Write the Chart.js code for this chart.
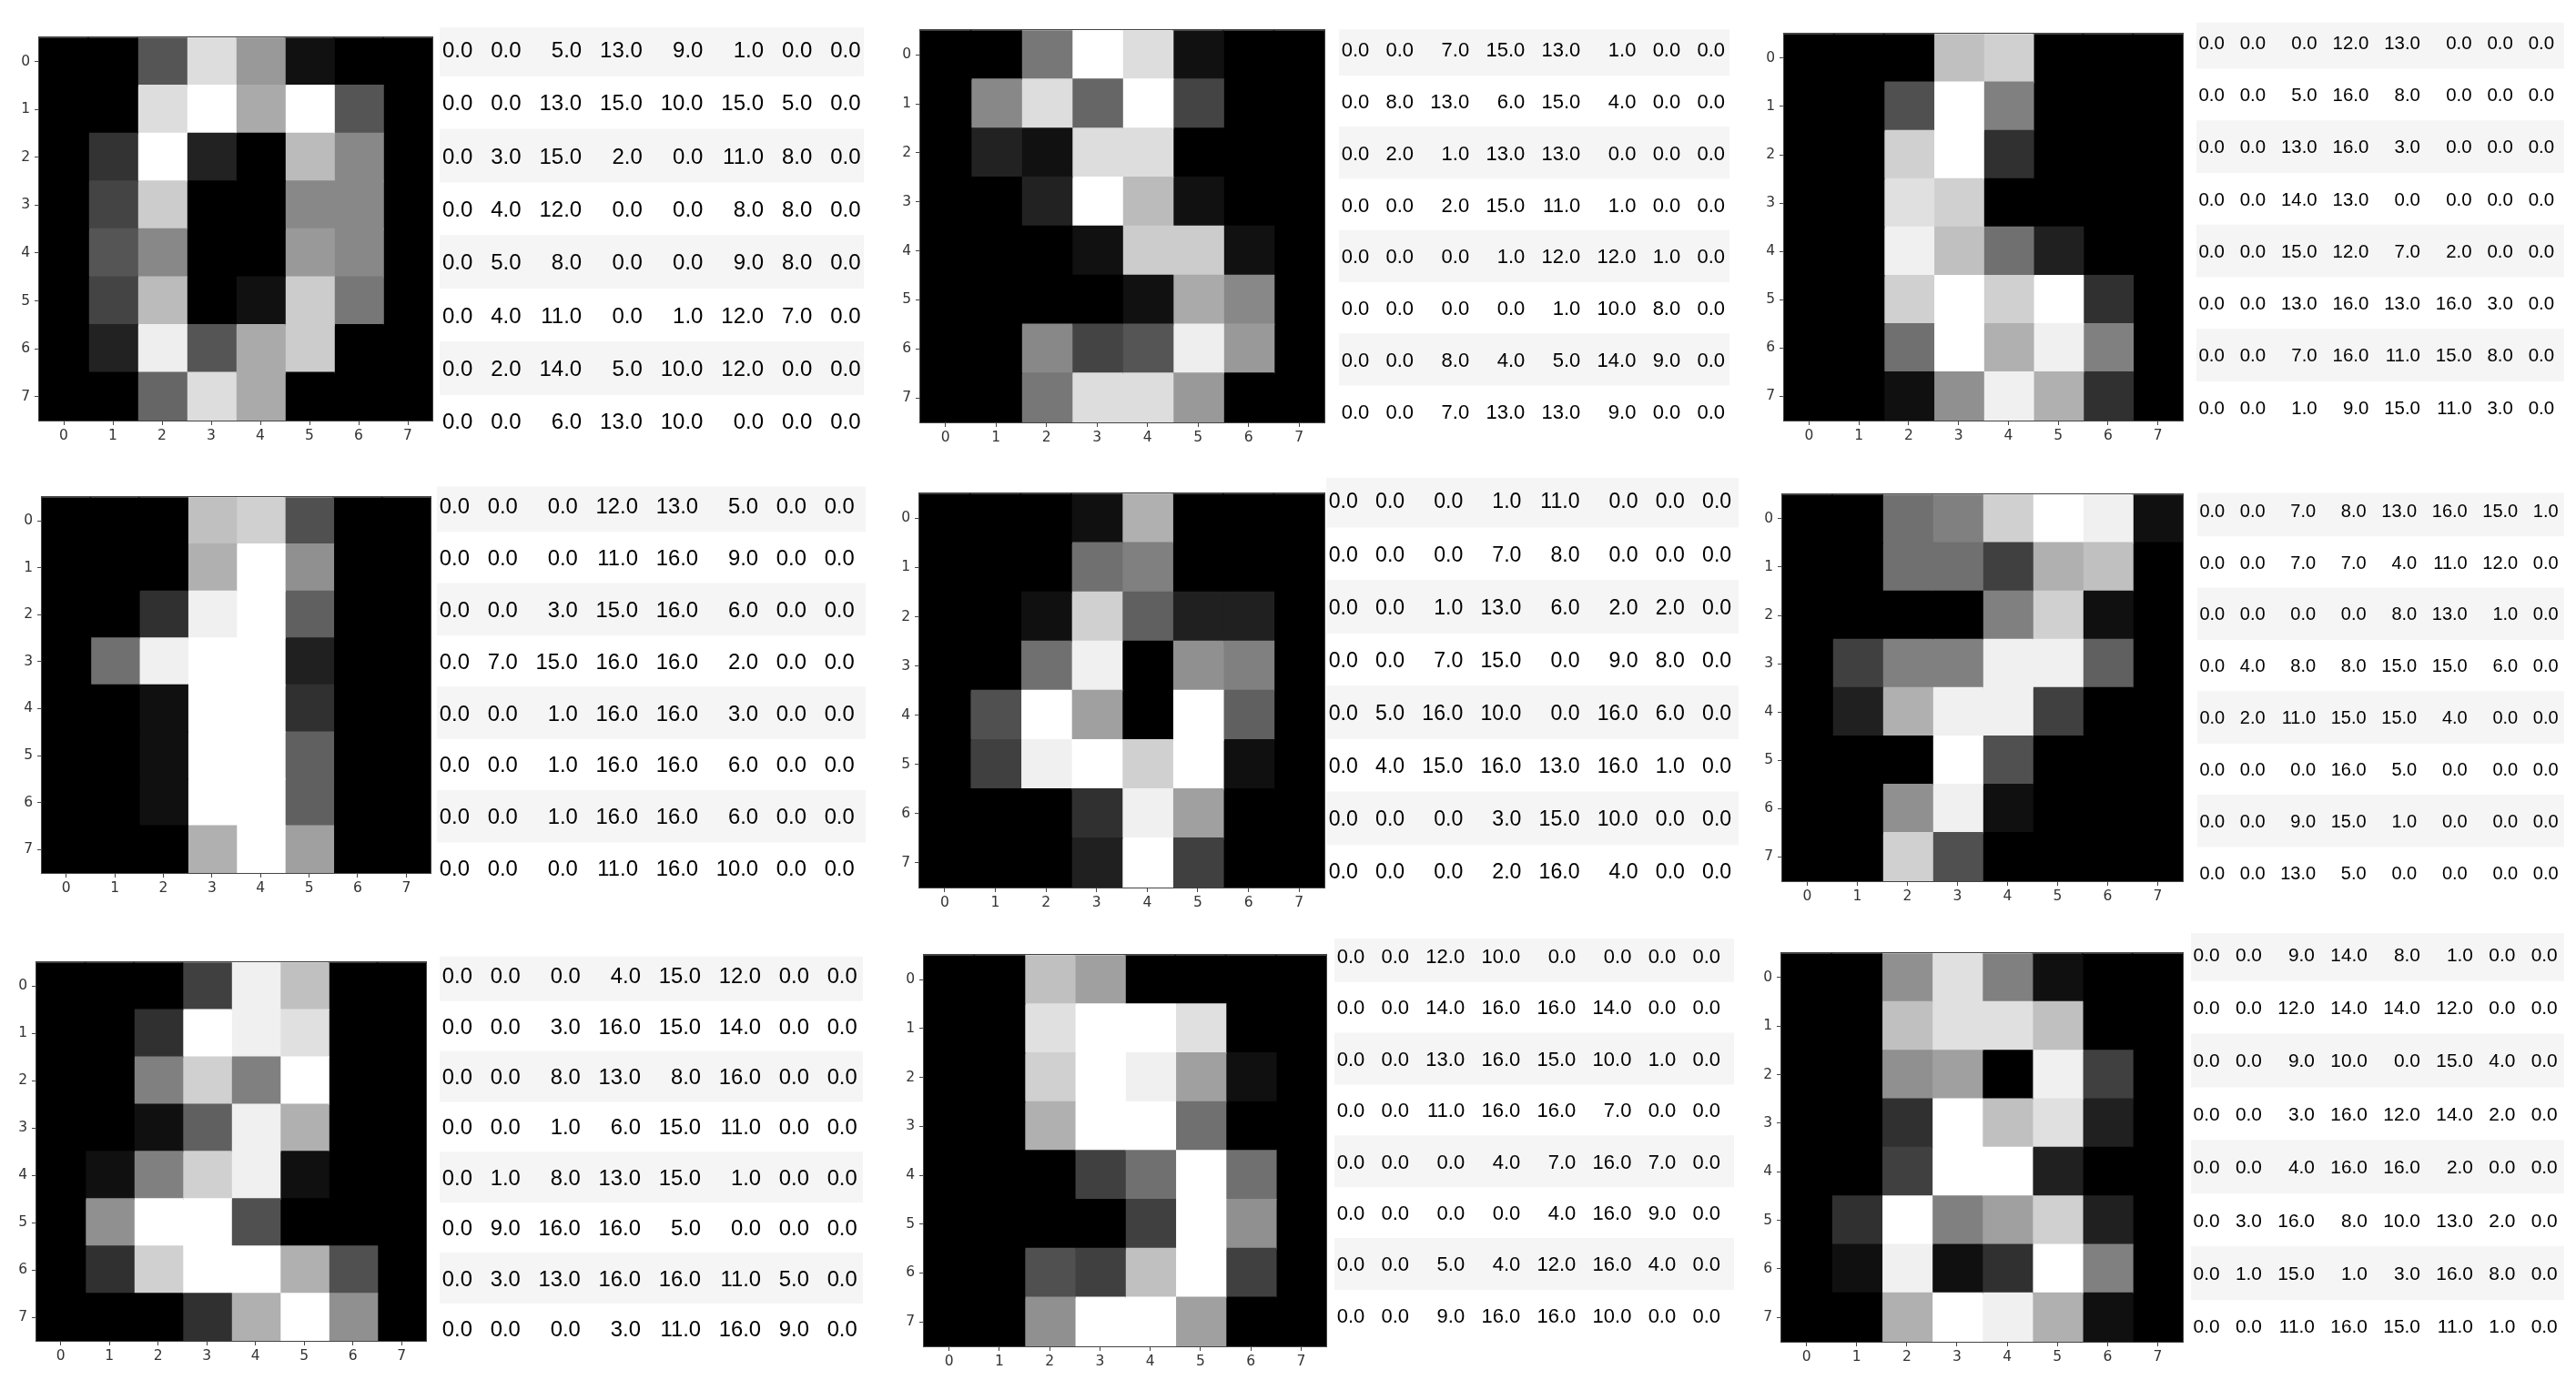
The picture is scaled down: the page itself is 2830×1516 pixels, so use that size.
<!DOCTYPE html>
<html><head><meta charset="utf-8">
<script src="https://cdn.jsdelivr.net/npm/chart.js@4.4.1/dist/chart.umd.min.js"></script>
<style>
html,body{margin:0;padding:0;background:#fff;}
#wrap{position:relative;width:2830px;height:1516px;overflow:hidden;background:#fff;}
#wrap canvas{position:absolute;}
</style></head><body><div id="wrap"></div>
<script>
// ---------- data ----------
const tickValues = [0, 1, 2, 3, 4, 5, 6, 7];
const tickLabels = ['0', '1', '2', '3', '4', '5', '6', '7'];

const sample0 = [
  [0,0,5,13,9,1,0,0],[0,0,13,15,10,15,5,0],[0,3,15,2,0,11,8,0],[0,4,12,0,0,8,8,0],
  [0,5,8,0,0,9,8,0],[0,4,11,0,1,12,7,0],[0,2,14,5,10,12,0,0],[0,0,6,13,10,0,0,0]];
const sample1 = [
  [0,0,0,12,13,5,0,0],[0,0,0,11,16,9,0,0],[0,0,3,15,16,6,0,0],[0,7,15,16,16,2,0,0],
  [0,0,1,16,16,3,0,0],[0,0,1,16,16,6,0,0],[0,0,1,16,16,6,0,0],[0,0,0,11,16,10,0,0]];
const sample2 = [
  [0,0,0,4,15,12,0,0],[0,0,3,16,15,14,0,0],[0,0,8,13,8,16,0,0],[0,0,1,6,15,11,0,0],
  [0,1,8,13,15,1,0,0],[0,9,16,16,5,0,0,0],[0,3,13,16,16,11,5,0],[0,0,0,3,11,16,9,0]];
const sample3 = [
  [0,0,7,15,13,1,0,0],[0,8,13,6,15,4,0,0],[0,2,1,13,13,0,0,0],[0,0,2,15,11,1,0,0],
  [0,0,0,1,12,12,1,0],[0,0,0,0,1,10,8,0],[0,0,8,4,5,14,9,0],[0,0,7,13,13,9,0,0]];
const sample4 = [
  [0,0,0,1,11,0,0,0],[0,0,0,7,8,0,0,0],[0,0,1,13,6,2,2,0],[0,0,7,15,0,9,8,0],
  [0,5,16,10,0,16,6,0],[0,4,15,16,13,16,1,0],[0,0,0,3,15,10,0,0],[0,0,0,2,16,4,0,0]];
const sample5 = [
  [0,0,12,10,0,0,0,0],[0,0,14,16,16,14,0,0],[0,0,13,16,15,10,1,0],[0,0,11,16,16,7,0,0],
  [0,0,0,4,7,16,7,0],[0,0,0,0,4,16,9,0],[0,0,5,4,12,16,4,0],[0,0,9,16,16,10,0,0]];
const sample6 = [
  [0,0,0,12,13,0,0,0],[0,0,5,16,8,0,0,0],[0,0,13,16,3,0,0,0],[0,0,14,13,0,0,0,0],
  [0,0,15,12,7,2,0,0],[0,0,13,16,13,16,3,0],[0,0,7,16,11,15,8,0],[0,0,1,9,15,11,3,0]];
const sample7 = [
  [0,0,7,8,13,16,15,1],[0,0,7,7,4,11,12,0],[0,0,0,0,8,13,1,0],[0,4,8,8,15,15,6,0],
  [0,2,11,15,15,4,0,0],[0,0,0,16,5,0,0,0],[0,0,9,15,1,0,0,0],[0,0,13,5,0,0,0,0]];
const sample8 = [
  [0,0,9,14,8,1,0,0],[0,0,12,14,14,12,0,0],[0,0,9,10,0,15,4,0],[0,0,3,16,12,14,2,0],
  [0,0,4,16,16,2,0,0],[0,3,16,8,10,13,2,0],[0,1,15,1,3,16,8,0],[0,0,11,16,15,11,1,0]];

// panels in reading order (the figure lays the samples out column by column)
const panelSamples = [sample0, sample3, sample6, sample1, sample4, sample7, sample2, sample5, sample8];

// ---------- layout (pixels) ----------
// image plot area: [left, top, right, bottom]
const imageBoxes = [
  [43, 29, 475, 462], [1011, 21, 1455, 464], [1960, 25, 2398, 462],
  [46, 534, 473, 959], [1010, 530, 1455, 975], [1958, 531, 2398, 968],
  [40, 1045, 468, 1473], [1015, 1037, 1457, 1479], [1957, 1035, 2398, 1474]];
// table: [left, right, firstRowCenter, lastRowCenter, visibleTop, fontSize]
const tableBoxes = [
  [483, 949, 54, 463, 30, 24], [1471, 1900, 54, 451, 32, 22], [2413, 2817, 47, 448, 25, 20.4],
  [480, 951, 555, 953, 534, 23.8], [1457, 1910, 550, 957, 525, 23.1], [2414, 2817, 560, 958, 541, 20],
  [483, 948, 1072, 1460, 1051, 23.8], [1466, 1905, 1050, 1445, 1031, 22], [2407, 2817, 1048, 1457, 1025, 20.9]];

const AXIS_W = 45, AXIS_H = 40, PAD_T = 2, PAD_R = 3;
const TICK_FONT = {family: '"DejaVu Sans", sans-serif', size: 15.5};
const TABLE_FONT = '"Liberation Sans", Arial, Helvetica, sans-serif';

const wrap = document.getElementById('wrap');
function addCanvas(left, top, w, h) {
  const c = document.createElement('canvas');
  c.width = Math.round(w); c.height = Math.round(h);
  c.style.left = Math.round(left) + 'px'; c.style.top = Math.round(top) + 'px';
  c.style.width = Math.round(w) + 'px'; c.style.height = Math.round(h) + 'px';
  wrap.appendChild(c);
  return c;
}
function grayFor(v, vmax) {
  const g = Math.min(255, Math.floor(v / vmax * 256));
  return `rgb(${g},${g},${g})`;
}

const spinePlugin = {
  id: 'spines',
  afterDraw(chart) {
    const a = chart.chartArea, ctx = chart.ctx;
    ctx.save();
    ctx.strokeStyle = '#444';
    ctx.lineWidth = 1;
    ctx.strokeRect(Math.round(a.left) - 0.5, Math.round(a.top) - 0.5,
                   Math.round(a.right - a.left) + 1, Math.round(a.bottom - a.top) + 1);
    ctx.restore();
  }
};

const tableTextPlugin = {
  id: 'tableText',
  afterDatasetsDraw(chart, args, opts) {
    const ctx = chart.ctx, xs = chart.scales.x, ys = chart.scales.y;
    const rows = opts.rows, fs = opts.fontSize;
    ctx.save();
    ctx.font = `${fs}px ${TABLE_FONT}`;
    ctx.fillStyle = '#000';
    ctx.textAlign = 'right';
    ctx.textBaseline = 'alphabetic';
    const strs = rows.map(r => r.map(v => v.toFixed(1)));
    let pos = opts.padLeft;
    for (let j = 0; j < rows[0].length; j++) {
      let m = 0;
      for (let i = 0; i < rows.length; i++) m = Math.max(m, ctx.measureText(strs[i][j]).width);
      pos += m / fs;
      const x = xs.getPixelForValue(pos);
      for (let i = 0; i < rows.length; i++) {
        ctx.fillText(strs[i][j], x, ys.getPixelForValue(i) + 0.36 * fs);
      }
      pos += opts.gap;
    }
    ctx.restore();
  }
};

function makeImage(rows, box) {
  const [l, t, r, b] = box;
  const w = r - l, h = b - t;
  const c = addCanvas(l - AXIS_W, t - PAD_T, w + AXIS_W + PAD_R, h + PAD_T + AXIS_H);
  const vmax = Math.max(...rows.flat());
  const datasets = tickValues.map(j => ({
    data: rows.map(() => [j - 0.5, j + 0.5]),
    backgroundColor: rows.map(row => grayFor(row[j], vmax)),
    borderWidth: 0, barPercentage: 1, categoryPercentage: 1, grouped: false,
    inflateAmount: 0.8
  }));
  new Chart(c, {
    type: 'bar',
    data: {labels: tickLabels, datasets},
    options: {
      indexAxis: 'y', responsive: false, animation: false, devicePixelRatio: 1,
      layout: {padding: {top: PAD_T, right: PAD_R, left: 0, bottom: 0}},
      plugins: {legend: {display: false}, tooltip: {enabled: false}},
      scales: {
        x: {
          type: 'linear', min: -0.5, max: 7.5,
          afterBuildTicks: s => { s.ticks = tickValues.map(v => ({value: v})); },
          afterFit: s => { s.height = AXIS_H; },
          ticks: {callback: (v, i) => tickLabels[i], font: TICK_FONT, color: '#333',
                  padding: 3, autoSkip: false, maxRotation: 0},
          grid: {drawOnChartArea: false, tickLength: 5, color: '#444'},
          border: {display: false}
        },
        y: {
          type: 'category', offset: true,
          afterFit: s => { s.width = AXIS_W; },
          ticks: {font: TICK_FONT, color: '#333', padding: 5, autoSkip: false},
          grid: {offset: false, drawOnChartArea: false, tickLength: 5, color: '#444'},
          border: {display: false}
        }
      }
    },
    plugins: [spinePlugin]
  });
}

function makeTable(rows, box) {
  const [l, r, c0, c7, vTop, fs] = box;
  const n = rows.length;
  const pitch = (c7 - c0) / (n - 1);
  const top = c0 - pitch / 2;
  const h = pitch * n, w = r - l;
  const c = addCanvas(l, top, w, h);
  const xmax = w / fs;
  new Chart(c, {
    type: 'bar',
    data: {
      labels: rows.map((_, i) => String(i)),
      datasets: [{
        data: rows.map(() => [0, xmax]),
        backgroundColor: rows.map((_, i) => i % 2 === 0 ? '#f5f5f5' : 'rgba(255,255,255,0)'),
        borderWidth: 0, barPercentage: 1, categoryPercentage: 1,
        clip: {left: 0, right: 0, bottom: 0, top: -Math.max(0, vTop - top)}
      }]
    },
    options: {
      indexAxis: 'y', responsive: false, animation: false, devicePixelRatio: 1,
      layout: {padding: 0},
      plugins: {legend: {display: false}, tooltip: {enabled: false},
                tableText: {rows, fontSize: fs, padLeft: 0.12, gap: 0.83}},
      scales: {
        x: {type: 'linear', min: 0, max: xmax, display: false},
        y: {type: 'category', offset: true, display: false}
      }
    },
    plugins: [tableTextPlugin]
  });
}

panelSamples.forEach((rows, k) => {
  makeImage(rows, imageBoxes[k]);
  makeTable(rows, tableBoxes[k]);
});
</script>
</body></html>
